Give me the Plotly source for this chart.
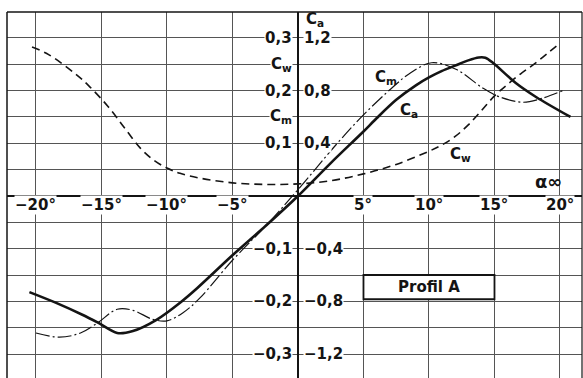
import plotly.graph_objects as go

# Angle of attack (deg) and coefficients for profile A
alpha_ca = [-20.5, -18.5, -16.5, -15.3, -13.8, -12.6, -10.8, -9.0, -7.7, -5.0, -2.5, 0.0,
            2.5, 5.0, 6.0, 7.5, 9.0, 10.0, 11.0, 12.0, 13.0, 13.8, 14.3, 14.9, 16.6, 18.2, 20.8]
ca = [-0.73, -0.81, -0.90, -0.96, -1.04, -1.025, -0.94, -0.81, -0.70, -0.45, -0.23, 0.0,
      0.25, 0.49, 0.59, 0.73, 0.84, 0.90, 0.95, 0.99, 1.03, 1.052, 1.05, 1.01, 0.86, 0.75, 0.60]

alpha_cm = [-20.0, -18.2, -16.6, -15.3, -13.8, -12.6, -11.1, -10.0, -8.8, -7.5, -5.0, -2.5,
            0.0, 3.0, 5.0, 7.25, 8.5, 10.2, 12.1, 14.1, 15.4, 17.2, 18.7, 20.2]
cm = [-0.26, -0.268, -0.26, -0.241, -0.215, -0.217, -0.234, -0.237, -0.222, -0.194, -0.122,
      -0.058, 0.012, 0.10, 0.154, 0.207, 0.232, 0.253, 0.24, 0.205, 0.188, 0.178, 0.186, 0.200]

alpha_cw = [-20.3, -19.0, -17.0, -16.0, -14.5, -13.2, -12.0, -11.0, -10.0, -9.0, -7.5, -5.0,
            -2.5, 0.0, 2.5, 5.0, 7.5, 10.0, 11.0, 12.0, 13.0, 14.0, 15.0, 16.0, 17.0, 18.0,
            19.0, 20.0]
cw = [0.283, 0.268, 0.232, 0.210, 0.170, 0.128, 0.090, 0.068, 0.053, 0.043, 0.034, 0.025,
      0.022, 0.023, 0.029, 0.042, 0.060, 0.085, 0.097, 0.113, 0.135, 0.162, 0.190, 0.212,
      0.232, 0.250, 0.270, 0.290]

# Axis labels
alpha_ticks = [-20, -15, -10, -5, 5, 10, 15, 20]
cm_ticks = [0.3, 0.2, 0.1, -0.1, -0.2, -0.3]
ca_ticks = [1.2, 0.8, 0.4, -0.4, -0.8, -1.2]

INK = "#141414"
GRID = "#555555"
FONT = dict(family="DejaVu Sans", size=15, color=INK, weight="bold")

CM_RANGE = [-0.3455, 0.3493]
CA_RANGE = [4 * CM_RANGE[0], 4 * CM_RANGE[1]]

fig = go.Figure()

fig.add_trace(go.Scatter(
    x=alpha_cw, y=cw, mode="lines", yaxis="y",
    line=dict(color=INK, width=1.6, dash="8px,5px", shape="spline", smoothing=1.0),
    showlegend=False, hoverinfo="skip"))
fig.add_trace(go.Scatter(
    x=alpha_cm, y=cm, mode="lines", yaxis="y",
    line=dict(color=INK, width=1.2, dash="14px,3px,2px,3px", shape="spline", smoothing=1.0),
    showlegend=False, hoverinfo="skip"))
fig.add_trace(go.Scatter(
    x=alpha_ca, y=ca, mode="lines", yaxis="y2",
    line=dict(color=INK, width=2.6, shape="spline", smoothing=0.8),
    showlegend=False, hoverinfo="skip"))

ann = []


def fmt(v):
    s = f"{abs(v):.1f}".replace(".", ",")
    return ("−" if v < 0 else "") + s


for a in alpha_ticks:
    ann.append(dict(x=a, y=0, xref="x", yref="y", text=f"{'−' if a < 0 else ''}{abs(a)}°",
                    showarrow=False, xanchor="center", yanchor="top", yshift=1,
                    bgcolor="white", borderpad=0, font=FONT))
for v in cm_ticks:
    ann.append(dict(x=0, y=v, xref="x", yref="y", text=fmt(v), showarrow=False,
                    xanchor="right", yanchor="middle", xshift=-5, bgcolor="white",
                    borderpad=0, font=FONT))
for v in ca_ticks:
    ann.append(dict(x=0, y=v, xref="x", yref="y2", text=fmt(v), showarrow=False,
                    xanchor="left", yanchor="middle", xshift=5, bgcolor="white",
                    borderpad=0, font=FONT))

# coefficient names beside the central axis
ann.append(dict(x=0, y=0.25, xref="x", yref="y", text="C<sub>w</sub>", showarrow=False,
                xanchor="right", yanchor="middle", xshift=-5, bgcolor="white", borderpad=0,
                font=FONT))
ann.append(dict(x=0, y=0.15, xref="x", yref="y", text="C<sub>m</sub>", showarrow=False,
                xanchor="right", yanchor="middle", xshift=-5, bgcolor="white", borderpad=0,
                font=FONT))
ann.append(dict(x=0, y=0.336, xref="x", yref="y", text="C<sub>a</sub>", showarrow=False,
                xanchor="left", yanchor="middle", xshift=6, font=FONT))

# curve names
ann.append(dict(x=6.7, y=0.225, xref="x", yref="y", text="C<sub>m</sub>", showarrow=False,
                font=FONT))
ann.append(dict(x=8.5, y=0.162, xref="x", yref="y", text="C<sub>a</sub>", showarrow=False,
                font=FONT))
ann.append(dict(x=12.4, y=0.078, xref="x", yref="y", text="C<sub>w</sub>", showarrow=False,
                font=FONT))
ann.append(dict(x=19.1, y=0.028, xref="x", yref="y", text="α∞", showarrow=False,
                font=dict(family="DejaVu Sans", size=18, color=INK, weight="bold")))

# profile name box
ann.append(dict(x=10, y=-0.173, xref="x", yref="y", text="Profil A", showarrow=False,
                font=FONT))

shapes = [
    dict(type="rect", xref="x", yref="y", x0=5, x1=15, y0=-0.196, y1=-0.15,
         line=dict(color=INK, width=1.8), fillcolor="white", layer="above"),
    dict(type="line", xref="paper", yref="paper", x0=0, x1=1, y0=1, y1=1,
         line=dict(color=INK, width=1.5)),
    dict(type="line", xref="paper", yref="paper", x0=0, x1=0, y0=0, y1=1,
         line=dict(color=INK, width=1.5)),
    dict(type="line", xref="paper", yref="paper", x0=1, x1=1, y0=0, y1=1,
         line=dict(color=INK, width=1.2)),
]

fig.update_layout(
    width=583, height=378,
    margin=dict(l=7, r=1, t=12, b=0),
    paper_bgcolor="white", plot_bgcolor="white",
    xaxis=dict(range=[-22.21, 21.68], tick0=0, dtick=5, showgrid=True, gridcolor=GRID,
               gridwidth=1, zeroline=True, zerolinecolor=INK, zerolinewidth=1.8,
               showticklabels=False, ticks="", fixedrange=True),
    yaxis=dict(range=CM_RANGE, tick0=0, dtick=0.05, showgrid=True, gridcolor=GRID,
               gridwidth=1, zeroline=True, zerolinecolor=INK, zerolinewidth=2,
               showticklabels=False, ticks="", fixedrange=True),
    yaxis2=dict(range=CA_RANGE, overlaying="y", showgrid=False, zeroline=False,
                showticklabels=False, ticks="", fixedrange=True),
    annotations=ann,
    shapes=shapes,
)

fig.write_html("out.html")
